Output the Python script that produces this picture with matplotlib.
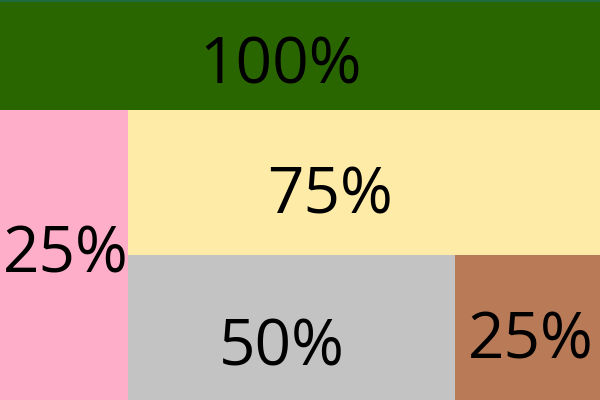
import matplotlib
matplotlib.use("Agg")

import matplotlib.pyplot as plt
from matplotlib.patches import Rectangle

# ------------------------------------------------------------------ data --
labels = ["100%", "25%", "75%", "50%", "25%"]
sizes = [66.0, 37.1, 68.4, 47.4, 21.0]      # tile areas
colors = ["#296600", "#ffaec9", "#fdeba7", "#c3c3c3", "#b97a57"]

W, H = 6.0, 4.0  # canvas in inches, y grows downward

# label nudges (inches) from tile centre to text centre-x / baseline
label_dx = [-0.19, 0.02, -0.34, -0.10, 0.03]
label_dy = [0.285, 0.17, 0.305, 0.38, 0.305]


def slice_and_dice(vals, x, y, w, h):
    """Peel tiles one by one, alternating top strip / left strip."""
    rects = []
    rest = float(sum(vals))
    horiz = True
    for i, v in enumerate(vals):
        if i == len(vals) - 1:
            rects.append((x, y, w, h))
            break
        f = v / rest
        if horiz:
            rects.append((x, y, w, h * f))
            y, h = y + h * f, h * (1 - f)
        else:
            rects.append((x, y, w * f, h))
            x, w = x + w * f, w * (1 - f)
        rest -= v
        horiz = not horiz
    return rects


fig = plt.figure(figsize=(W, H), dpi=100)
ax = fig.add_axes([0, 0, 1, 1])
ax.set_xlim(0, W)
ax.set_ylim(H, 0)
ax.axis("off")

for (x, y, w, h), lab, c, dx, dy in zip(slice_and_dice(sizes, 0, 0, W, H),
                                        labels, colors, label_dx, label_dy):
    ax.add_patch(Rectangle((x, y), w, h, facecolor=c, edgecolor="none"))
    ax.text(x + w / 2 + dx, y + h / 2 + dy, lab, fontsize=46,
            family="Open Sans", color="black", ha="center", va="baseline")

ax.plot([0, W], [0.008, 0.008], color="#1f6a40", lw=1.5)

fig.savefig("out.png", dpi=100)
